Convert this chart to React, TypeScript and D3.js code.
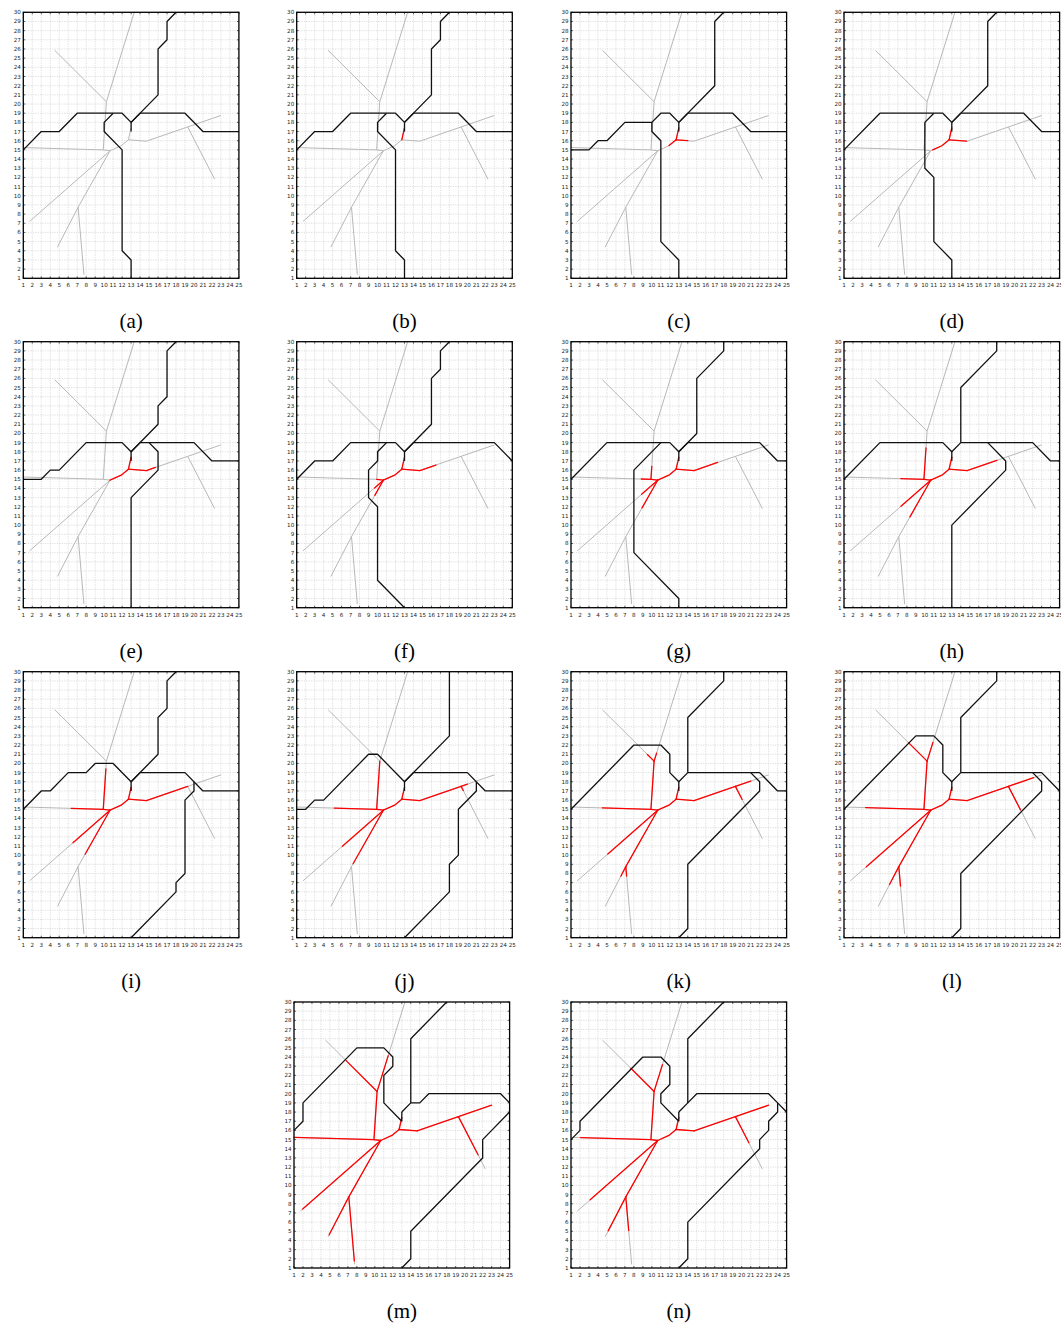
import React from 'react';
import * as d3 from 'd3';

type Pt = [number, number];

// panel captions
const panelLabels = ['a', 'b', 'c', 'd', 'e', 'f', 'g', 'h', 'i', 'j', 'k', 'l', 'm', 'n'];

// tree nodes (grey network, same in every panel)
const R1: Pt = [12.7, 16.1];
const Rt: Pt = [13.0, 17.4];
const R2: Pt = [14.7, 15.95];
const Q1: Pt = [11.9, 15.45];
const C: Pt = [10.65, 14.9];
const B1: Pt = [19.3, 17.5];
const Rr: Pt = [23.0, 18.75];
const Br: Pt = [22.3, 11.8];
const J1: Pt = [9.9, 15.0];
const P0: Pt = [1.0, 15.25];
const U: Pt = [10.25, 20.25];
const Lt: Pt = [4.5, 25.85];
const Tp: Pt = [13.35, 30.0];
const Ld: Pt = [1.7, 7.2];
const D: Pt = [7.1, 8.75];
const Ld2: Pt = [4.8, 4.4];
const Ld3: Pt = [7.75, 1.4];

// edges, oriented away from the root R1
const treeEdges: Pt[][] = [
  [R1, Rt], [R1, R2], [R1, Q1, C], [R2, B1], [B1, Rr], [B1, Br],
  [C, J1], [J1, P0], [J1, U], [U, Lt], [U, Tp],
  [C, Ld], [C, D], [D, Ld2], [D, Ld3],
];

// red share of every edge, per panel (same order as treeEdges)
const redReach: number[][] = [
  [0, 0, 0, 0, 0, 0, 0, 0, 0, 0, 0, 0, 0, 0, 0],
  [1, 0, 0, 0, 0, 0, 0, 0, 0, 0, 0, 0, 0, 0, 0],
  [1, 0.65, 0.42, 0, 0, 0, 0, 0, 0, 0, 0, 0, 0, 0, 0],
  [1, 0.97, 0.9, 0, 0, 0, 0, 0, 0, 0, 0, 0, 0, 0, 0],
  [1, 1, 1, 0.22, 0, 0, 0, 0, 0, 0, 0, 0, 0, 0, 0],
  [1, 1, 1, 0.39, 0, 0, 1, 0, 0, 0, 0, 0.11, 0.27, 0, 0],
  [1, 1, 1, 0.57, 0, 0, 1, 0.12, 0.27, 0, 0, 0.2, 0.49, 0, 0],
  [1, 1, 1, 0.72, 0, 0, 1, 0.29, 0.65, 0, 0, 0.37, 0.65, 0, 0],
  [1, 1, 1, 1, 0, 0, 1, 0.4, 0.84, 0, 0, 0.46, 0.78, 0, 0],
  [1, 1, 1, 1, 0.19, 0.08, 1, 0.53, 1, 0, 0, 0.51, 0.95, 0, 0],
  [1, 1, 1, 1, 0.46, 0.25, 1, 0.61, 1, 0.13, 0.09, 0.62, 1, 0.24, 0.14],
  [1, 1, 1, 1, 0.76, 0.45, 1, 0.73, 1, 0.36, 0.21, 0.8, 1, 0.45, 0.29],
  [1, 1, 1, 1, 1, 0.73, 1, 1, 1, 0.6, 0.4, 0.97, 1, 0.95, 0.95],
  [1, 1, 1, 1, 1, 0.5, 1, 0.88, 1, 0.45, 0.3, 0.84, 1, 0.85, 0.5],
];

// black boundary polylines, per panel
const blackPaths: Pt[][][] = [
  [ // a
    [[1, 15], [3, 17], [5, 17], [7, 19], [12, 19], [13, 18], [14, 19], [19, 19], [21, 17], [25, 17]],
    [[11, 19], [10, 18], [10, 17], [12, 15], [12, 4], [13, 3], [13, 1]],
    [[13, 18], [13, 17]],
    [[13, 18], [16, 21], [16, 26], [17, 27], [17, 29], [18, 30]],
  ],
  [ // b
    [[1, 15], [3, 17], [5, 17], [7, 19], [12, 19], [13, 18], [14, 19], [19, 19], [21, 17], [25, 17]],
    [[11, 19], [10, 18], [10, 17], [12, 15], [12, 4], [13, 3], [13, 1]],
    [[13, 18], [13, 17]],
    [[13, 18], [16, 21], [16, 26], [17, 27], [17, 29], [18, 30]],
  ],
  [ // c
    [[1, 15], [3, 15], [4, 16], [5, 16], [7, 18], [10, 18], [11, 19], [12, 19], [13, 18], [14, 19], [19, 19], [21, 17], [25, 17]],
    [[10, 18], [10, 17], [11, 16], [11, 5], [13, 3], [13, 1]],
    [[13, 18], [13, 17]],
    [[13, 18], [17, 22], [17, 29], [18, 30]],
  ],
  [ // d
    [[1, 15], [5, 19], [12, 19], [13, 18], [14, 19], [21, 19], [23, 17], [25, 17]],
    [[11, 19], [10, 18], [10, 13], [11, 12], [11, 5], [13, 3], [13, 1]],
    [[13, 18], [13, 17]],
    [[13, 18], [17, 22], [17, 29], [18, 30]],
  ],
  [ // e
    [[1, 15], [3, 15], [4, 16], [5, 16], [8, 19], [12, 19], [13, 18], [14, 19], [20, 19], [22, 17], [25, 17]],
    [[13, 18], [13, 17]],
    [[13, 18], [16, 21], [16, 23], [17, 24], [17, 29], [18, 30]],
    [[15, 19], [16, 18], [16, 16], [13, 13], [13, 1]],
  ],
  [ // f
    [[1, 15], [3, 17], [5, 17], [7, 19], [12, 19], [13, 18], [14, 19], [23, 19], [25, 17]],
    [[11, 19], [10, 18], [10, 17], [9, 16], [9, 13], [10, 12], [10, 4], [13, 1]],
    [[13, 18], [13, 17]],
    [[13, 18], [16, 21], [16, 26], [17, 27], [17, 29], [18, 30]],
  ],
  [ // g
    [[1, 15], [5, 19], [12, 19], [13, 18], [14, 19], [22, 19], [24, 17], [25, 17]],
    [[11, 19], [8, 16], [8, 7], [13, 2], [13, 1]],
    [[13, 18], [13, 17]],
    [[13, 18], [15, 20], [15, 26], [18, 29], [18, 30]],
  ],
  [ // h
    [[1, 15], [5, 19], [12, 19], [13, 18], [14, 19], [22, 19], [24, 17], [25, 17]],
    [[13, 18], [13, 17]],
    [[14, 19], [14, 25], [18, 29], [18, 30]],
    [[17, 19], [19, 17], [19, 16], [13, 10], [13, 1]],
  ],
  [ // i
    [[1, 15], [3, 17], [4, 17], [6, 19], [8, 19], [9, 20], [11, 20], [13, 18], [14, 19], [19, 19], [21, 17], [25, 17]],
    [[13, 18], [13, 17]],
    [[13, 18], [16, 21], [16, 25], [17, 26], [17, 29], [18, 30]],
    [[20, 18], [20, 17], [19, 16], [19, 8], [18, 7], [18, 6], [13, 1]],
  ],
  [ // j
    [[1, 15], [2, 15], [3, 16], [4, 16], [9, 21], [10, 21], [13, 18], [14, 19], [20, 19], [22, 17], [25, 17]],
    [[13, 18], [13, 17]],
    [[13, 18], [18, 23], [18, 30]],
    [[21, 18], [21, 17], [19, 15], [19, 10], [18, 9], [18, 6], [13, 1]],
  ],
  [ // k
    [[1, 15], [8, 22], [11, 22], [12, 21], [12, 19], [13, 18], [14, 19], [22, 19], [24, 17], [25, 17]],
    [[13, 18], [13, 17]],
    [[14, 19], [14, 25], [18, 29], [18, 30]],
    [[21, 19], [22, 18], [22, 17], [14, 9], [14, 2], [13, 1]],
  ],
  [ // l
    [[1, 15], [9, 23], [11, 23], [12, 22], [12, 19], [13, 18], [14, 19], [23, 19], [25, 17]],
    [[13, 18], [13, 17]],
    [[14, 19], [14, 25], [18, 29], [18, 30]],
    [[22, 19], [23, 18], [23, 17], [14, 8], [14, 2], [13, 1]],
  ],
  [ // m
    [[1, 16], [2, 17], [2, 19], [8, 25], [11, 25], [12, 24], [12, 23], [11, 22], [11, 19], [13, 17]],
    [[13, 18], [14, 19], [15, 19], [16, 20], [24, 20], [25, 19]],
    [[13, 18], [13, 17]],
    [[14, 19], [14, 26], [18, 30]],
    [[25, 18], [22, 15], [22, 13], [14, 5], [14, 2], [13, 1]],
  ],
  [ // n
    [[1, 15], [2, 16], [2, 17], [9, 24], [11, 24], [12, 23], [12, 21], [11, 20], [11, 19], [13, 17]],
    [[13, 18], [14, 19], [15, 20], [23, 20], [24, 19], [25, 18]],
    [[13, 18], [13, 17]],
    [[14, 19], [14, 26], [18, 30]],
    [[24, 19], [24, 18], [23, 17], [23, 16], [22, 15], [22, 14], [14, 6], [14, 2], [13, 1]],
  ],
];

const xTicks = d3.range(1, 26);
const yTicks = d3.range(1, 31);

const W = 215.6;
const H = 266;
const colLeft = [23.3, 296.7, 571, 844];
const rowTop = [12.3, 341.7, 671.7, 1002];
const lastRowLeft = [294, 571];

function cutPolyline(pts: Pt[], t: number): Pt[] | null {
  if (t <= 0) return null;
  const lens: number[] = [];
  let total = 0;
  for (let i = 0; i < pts.length - 1; i++) {
    const l = Math.hypot(pts[i + 1][0] - pts[i][0], pts[i + 1][1] - pts[i][1]);
    lens.push(l);
    total += l;
  }
  let left = Math.min(t, 1) * total;
  const out: Pt[] = [pts[0]];
  for (let i = 0; i < lens.length; i++) {
    if (left >= lens[i]) {
      out.push(pts[i + 1]);
      left -= lens[i];
    } else {
      const f = left / lens[i];
      out.push([
        pts[i][0] + f * (pts[i + 1][0] - pts[i][0]),
        pts[i][1] + f * (pts[i + 1][1] - pts[i][1]),
      ]);
      break;
    }
  }
  return out;
}

const Panel = ({ idx, left, top }: { idx: number; left: number; top: number }) => {
  const x = d3.scaleLinear().domain([1, 25]).range([0, W]);
  const y = d3.scaleLinear().domain([1, 30]).range([H, 0]);
  const line = d3.line<Pt>().x(d => x(d[0])).y(d => y(d[1]));
  const reach = redReach[idx];

  return (
    <g transform={`translate(${left},${top})`}>
      {xTicks.map(t => (
        <line key={'gx' + t} x1={x(t)} x2={x(t)} y1={0} y2={H}
          stroke="#c8c8c8" strokeWidth={0.6} strokeDasharray="1.2,1.2" />
      ))}
      {yTicks.map(t => (
        <line key={'gy' + t} x1={0} x2={W} y1={y(t)} y2={y(t)}
          stroke="#c8c8c8" strokeWidth={0.6} strokeDasharray="1.2,1.2" />
      ))}
      {treeEdges.map((e, i) => (
        <path key={'t' + i} d={line(e) || ''} fill="none" stroke="#b8b8b8" strokeWidth={1} />
      ))}
      {treeEdges.map((e, i) => {
        const part = cutPolyline(e, reach[i]);
        return part ? (
          <path key={'r' + i} d={line(part) || ''} fill="none" stroke="#ff0000"
            strokeWidth={1.3} strokeLinecap="round" strokeLinejoin="round" />
        ) : null;
      })}
      {blackPaths[idx].map((p, i) => (
        <path key={'b' + i} d={line(p) || ''} fill="none" stroke="#111"
          strokeWidth={1.3} strokeLinejoin="round" />
      ))}
      {xTicks.map(t => (
        <g key={'tx' + t}>
          <line x1={x(t)} x2={x(t)} y1={H} y2={H - 2} stroke="#000" strokeWidth={0.6} />
          <line x1={x(t)} x2={x(t)} y1={0} y2={2} stroke="#000" strokeWidth={0.6} />
          <text x={x(t)} y={H + 9} fontSize={5.6} textAnchor="middle"
            fontFamily="DejaVu Sans, sans-serif" fill="#222">{t}</text>
        </g>
      ))}
      {yTicks.map(t => (
        <g key={'ty' + t}>
          <line x1={0} x2={2} y1={y(t)} y2={y(t)} stroke="#000" strokeWidth={0.6} />
          <line x1={W} x2={W - 2} y1={y(t)} y2={y(t)} stroke="#000" strokeWidth={0.6} />
          <text x={-2.5} y={y(t) + 2} fontSize={5.6} textAnchor="end"
            fontFamily="DejaVu Sans, sans-serif" fill="#222">{t}</text>
        </g>
      ))}
      <rect x={0} y={0} width={W} height={H} fill="none" stroke="#000" strokeWidth={1.3} />
      <text x={W / 2} y={316} fontSize={21} textAnchor="middle"
        fontFamily="Liberation Serif, DejaVu Serif, serif" fill="#000">
        ({panelLabels[idx]})
      </text>
    </g>
  );
};

export default function App() {
  return (
    <svg width={1061} height={1326} viewBox="0 0 1061 1326"
      style={{ position: 'absolute', left: 0, top: 0, background: '#fff' }}>
      <rect width={1061} height={1326} fill="#fff" />
      {panelLabels.map((_, i) => {
        const row = Math.floor(i / 4);
        const col = i % 4;
        const left = row < 3 ? colLeft[col] : lastRowLeft[col];
        return <Panel key={i} idx={i} left={left} top={rowTop[row]} />;
      })}
    </svg>
  );
}
